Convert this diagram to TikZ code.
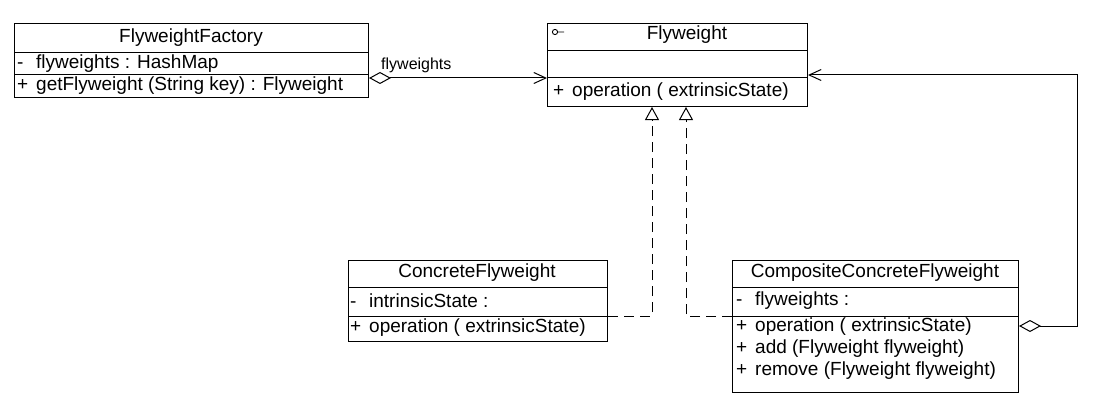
\documentclass[tikz,border=0pt]{standalone}
\usepackage{fontspec}
\setmainfont{Liberation Sans}
\usetikzlibrary{arrows.meta}
% visibility marker followed by a fixed gap
\newcommand{\umlvis}[1]{\makebox[19pt][l]{#1}}
\begin{document}
\begin{tikzpicture}[x=1pt,y=-1pt,
  classbox/.style={draw, line width=1pt, rectangle, inner sep=0pt, anchor=north west},
  sepline/.style={line width=1pt},
  member/.style={inner sep=0pt, anchor=west, font=\fontsize{19}{22}\selectfont},
  classname/.style={inner sep=0pt, font=\fontsize{19}{22}\selectfont},
  rolelabel/.style={inner sep=0pt, anchor=west, font=\fontsize{16}{18}\selectfont},
  assoc/.style={line width=1pt, {Diamond[open, length=22pt, width=12pt, line width=1pt]}-{Straight Barb[length=12pt, width=11pt, line width=1pt]}},
  realize/.style={line width=1pt, dash pattern=on 10pt off 6pt, -{Triangle[open, length=13pt, width=14pt, line width=1pt, fill=white]}}
]
\useasboundingbox (0,0) rectangle (1104,412);

% FlyweightFactory
\node[classbox, minimum width=354pt, minimum height=74pt] (factory) at (14,23) {};
\draw[sepline] ([yshift=-30pt]factory.north west) -- ([yshift=-30pt]factory.north east);
\draw[sepline] ([yshift=-52pt]factory.north west) -- ([yshift=-52pt]factory.north east);
\node[classname] (factory-name) at (191,38) {FlyweightFactory};
\node[member] (factory-attr) at (17,64) {\umlvis{-}flyweights : HashMap};
\node[member] (factory-op) at (17,86) {\umlvis{+}getFlyweight (String key) : Flyweight};

% Flyweight (interface)
\node[classbox, minimum width=260pt, minimum height=83pt] (flyweight) at (547,23) {};
\draw[sepline] ([yshift=-28pt]flyweight.north west) -- ([yshift=-28pt]flyweight.north east);
\draw[sepline] ([yshift=-55pt]flyweight.north west) -- ([yshift=-55pt]flyweight.north east);
\draw[line width=0.9pt] (555,32) circle (2.6pt) (557.6,32) -- (564,32);
\node[classname] (flyweight-name) at (687,35) {Flyweight};
\node[member] (flyweight-op) at (553,92) {\umlvis{+}operation ( extrinsicState)};

% ConcreteFlyweight
\node[classbox, minimum width=259pt, minimum height=81pt] (concrete) at (348,260) {};
\draw[sepline] ([yshift=-27pt]concrete.north west) -- ([yshift=-27pt]concrete.north east);
\draw[sepline] ([yshift=-56pt]concrete.north west) -- ([yshift=-56pt]concrete.north east);
\node[classname] (concrete-name) at (477,273) {ConcreteFlyweight};
\node[member] (concrete-attr) at (350,301) {\umlvis{-}intrinsicState :};
\node[member] (concrete-op) at (350,328) {\umlvis{+}operation ( extrinsicState)};

% CompositeConcreteFlyweight
\node[classbox, minimum width=286pt, minimum height=132pt] (composite) at (732,260) {};
\draw[sepline] ([yshift=-27pt]composite.north west) -- ([yshift=-27pt]composite.north east);
\draw[sepline] ([yshift=-56pt]composite.north west) -- ([yshift=-56pt]composite.north east);
\node[classname] (composite-name) at (875,273) {CompositeConcreteFlyweight};
\node[member] (composite-attr) at (736,301) {\umlvis{-}flyweights :};
\node[member] (composite-op1) at (736,327) {\umlvis{+}operation ( extrinsicState)};
\node[member] (composite-op2) at (736,349) {\umlvis{+}add (Flyweight flyweight)};
\node[member] (composite-op3) at (736,371) {\umlvis{+}remove (Flyweight flyweight)};

% factory aggregates flyweights
\draw[assoc] ([yshift=-55pt]factory.north east) -- ([yshift=-55pt]flyweight.north west);
\node[rolelabel] (role) at (381,65) {flyweights};

% realizations of the interface
\coordinate (r1) at (652,316);
\coordinate (r2) at (686,316);
\draw[realize] (concrete.east |- r1) -- (r1) -- (r1 |- flyweight.south);
\draw[realize] (composite.west |- r2) -- (r2) -- (r2 |- flyweight.south);

% composite aggregates children
\coordinate (loop) at (1077,326);
\draw[assoc] ([yshift=-66pt]composite.north east) -- (loop) |- ([yshift=-52pt]flyweight.north east);
\end{tikzpicture}
\end{document}
